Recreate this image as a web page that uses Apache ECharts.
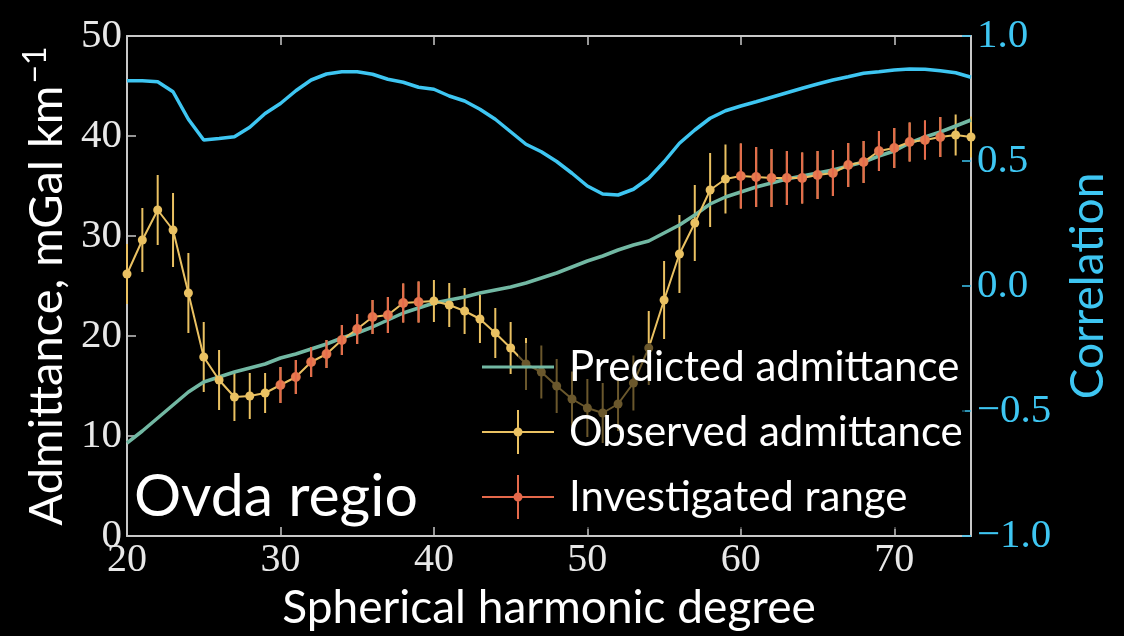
<!DOCTYPE html>
<html><head><meta charset="utf-8">
<script src="https://cdn.jsdelivr.net/npm/echarts@6/dist/echarts.min.js"></script>
<style>html,body{margin:0;padding:0;background:#000;} #c{width:1124px;height:636px;}</style>
</head><body><div id="c"></div>
<script>
const degrees = [20,21,22,23,24,25,26,27,28,29,30,31,32,33,34,35,36,37,38,39,40,41,42,43,44,45,46,47,
  48,49,50,51,52,53,54,55,56,57,58,59,60,61,62,63,64,65,66,67,68,69,70,71,72,73,74,75];
const observed = [26.2,29.6,32.6,30.6,24.3,17.9,15.6,13.9,14.0,14.3,15.1,15.9,17.4,18.2,19.6,20.7,21.9,22.1,
  23.3,23.4,23.5,23.1,22.5,21.7,20.3,18.8,17.2,16.4,15.0,13.7,12.8,12.3,13.2,15.3,18.8,23.6,28.2,31.3,34.6,
  35.7,36.0,35.9,35.8,35.8,35.8,36.1,36.3,37.1,37.4,38.5,38.8,39.4,39.6,39.9,40.1,39.9];
const obsError = [3.0,3.2,3.5,3.7,4.0,3.5,3.0,2.4,2.3,2.0,1.8,1.7,1.5,1.4,1.5,1.5,1.7,1.8,1.95,2.05,2.1,2.2,
  2.3,2.4,2.5,2.6,2.6,2.65,2.7,2.75,2.9,3.0,2.7,2.75,3.7,3.9,3.9,3.8,3.7,3.45,3.25,3.0,2.9,2.7,2.55,2.4,2.3,
  2.2,2.1,2.0,2.0,1.95,1.95,2.0,2.05,2.05];
const predicted = [9.3,10.5,11.8,13.1,14.4,15.4,15.9,16.4,16.8,17.2,17.8,18.2,18.7,19.2,19.8,20.3,20.9,21.6,
  22.3,22.8,23.3,23.6,23.9,24.3,24.6,24.9,25.3,25.8,26.3,26.9,27.5,28.0,28.6,29.1,29.5,30.3,31.1,32.1,33.2,
  33.9,34.4,34.9,35.3,35.7,36.0,36.3,36.6,37.0,37.4,38.0,38.5,39.3,39.9,40.4,41.0,41.6];
const correlation = [0.821,0.821,0.817,0.777,0.667,0.584,0.590,0.597,0.635,0.690,0.730,0.781,0.824,0.848,
  0.857,0.857,0.847,0.827,0.815,0.795,0.787,0.760,0.740,0.707,0.667,0.617,0.567,0.537,0.498,0.451,0.400,
  0.368,0.364,0.387,0.431,0.497,0.571,0.624,0.671,0.701,0.720,0.737,0.755,0.773,0.791,0.808,0.824,0.837,
  0.851,0.857,0.864,0.868,0.867,0.861,0.853,0.835];
const investigatedDegrees = [30,31,32,33,34,35,36,37,38,39,60,61,62,63,64,65,66,67,68,69,70,71,72,73];

const YELLOW = '#eac162', RED = '#e5694b', GREEN = '#72b8a3', BLUE = '#3ec6f2', FRAME = '#c8c8c8';

const obsPoints = degrees.map((d, i) => [d, observed[i]]);
const obsBars = degrees.map((d, i) => [d, observed[i] - obsError[i], observed[i] + obsError[i]]);
const invIdx = degrees.map((d, i) => i).filter(i => investigatedDegrees.indexOf(degrees[i]) >= 0);
const invPoints = invIdx.map(i => [degrees[i], observed[i]]);
const invBars = invIdx.map(i => [degrees[i], observed[i] - obsError[i], observed[i] + obsError[i]]);
const predPoints = degrees.map((d, i) => [d, predicted[i]]);
const corrPoints = degrees.map((d, i) => [d, correlation[i]]);

function errRender(color) {
  return function (params, api) {
    const x = api.value(0), lo = api.value(1), hi = api.value(2);
    const p1 = api.coord([x, lo]), p2 = api.coord([x, hi]);
    return { type: 'line', shape: { x1: p1[0], y1: p1[1], x2: p2[0], y2: p2[1] },
      style: { stroke: color, lineWidth: 2 } };
  };
}
const crossIcon = 'path://M0,21H72V23H0Z M35,0H37V44H35Z M31.5,22A4.5,4.5 0 1 1 40.5,22A4.5,4.5 0 1 1 31.5,22Z';
const lineIcon = 'path://M0,0H0.05V0.05H0Z M0,20.5H72V23.5H0Z M71.95,43.95H72V44H71.95Z';
const serif = 'Liberation Serif';
const sans = 'Lato';

const chart = echarts.init(document.getElementById('c'), null, { renderer: 'canvas' });
chart.setOption({
  backgroundColor: '#000',
  animation: false,
  grid: { left: 127, right: 153, top: 36, bottom: 100 },
  xAxis: [{
    type: 'value', min: 20, max: 75, interval: 10, position: 'bottom',
    axisLine: { show: true, onZero: false, lineStyle: { color: FRAME, width: 2 } },
    axisTick: { show: true, inside: true, length: 9, lineStyle: { color: FRAME, width: 1.5 } },
    axisLabel: { color: '#e8e8e8', fontFamily: serif, fontSize: 40, margin: 4, showMaxLabel: false },
    splitLine: { show: false },
    name: 'Spherical harmonic degree', nameLocation: 'middle', nameGap: 48,
    nameTextStyle: { color: '#fff', fontFamily: sans, fontSize: 46 }
  }, {
    type: 'value', min: 20, max: 75, interval: 10, position: 'top',
    axisLine: { show: true, onZero: false, lineStyle: { color: FRAME, width: 2 } },
    axisTick: { show: true, inside: true, length: 9, lineStyle: { color: FRAME, width: 1.5 } },
    axisLabel: { show: false }, splitLine: { show: false }
  }],
  yAxis: [{
    type: 'value', min: 0, max: 50, interval: 10, position: 'left',
    axisLine: { show: true, onZero: false, lineStyle: { color: FRAME, width: 2 } },
    axisTick: { show: true, inside: true, length: 9, lineStyle: { color: FRAME, width: 1.5 } },
    axisLabel: { color: '#e8e8e8', fontFamily: serif, fontSize: 41, margin: 5 },
    splitLine: { show: false },
    name: '{m|Admittance, mGal km}{s|−1}', nameLocation: 'middle', nameRotate: 90, nameGap: 48,
    nameTextStyle: { rich: {
      m: { color: '#fff', fontFamily: sans, fontSize: 47, lineHeight: 54 },
      s: { color: '#fff', fontFamily: sans, fontSize: 32, padding: [0, 0, 22, 2] }
    } }
  }, {
    type: 'value', min: -1, max: 1, interval: 0.5, position: 'right',
    axisLine: { show: true, onZero: false, lineStyle: { color: FRAME, width: 2 } },
    axisTick: { show: true, inside: true, length: 9, lineStyle: { color: BLUE, width: 1.5 } },
    axisLabel: { color: BLUE, fontFamily: serif, fontSize: 41, margin: 6,
      formatter: v => v.toFixed(1).replace('-', '−') },
    splitLine: { show: false },
    name: 'Correlation', nameLocation: 'middle', nameRotate: 90, nameGap: 94,
    nameTextStyle: { color: BLUE, fontFamily: sans, fontSize: 46 }
  }],
  legend: {
    orient: 'vertical', left: 477, top: 340, itemWidth: 72, itemHeight: 44, itemGap: 21,
    selectedMode: false, z: 200,
    textStyle: { color: '#fff', fontFamily: sans, fontSize: 42, padding: [0, 0, 0, 10] },
    data: [
      { name: 'Predicted admittance', icon: lineIcon, itemStyle: { color: GREEN } },
      { name: 'Observed admittance', icon: crossIcon, itemStyle: { color: YELLOW } },
      { name: 'Investigated range', icon: crossIcon, itemStyle: { color: RED } }
    ]
  },
  graphic: [
    { type: 'rect', z: 100, silent: true, shape: { x: 518, y: 343, width: 447, height: 186 },
      style: { fill: 'rgba(0,0,0,0.55)' } },
    { type: 'text', z: 100, silent: true,
      style: { text: 'Ovda regio', x: 134, y: 497, fill: '#fff', fontFamily: sans, fontSize: 59,
        verticalAlign: 'middle' } }
  ],
  series: [
    { name: 'Observed admittance', type: 'line', data: obsPoints, z: 4,
      symbol: 'circle', symbolSize: 9, lineStyle: { color: YELLOW, width: 2 },
      itemStyle: { color: YELLOW }, clip: false },
    { name: 'Observed admittance', type: 'custom', data: obsBars, z: 2,
      encode: { x: 0, y: [1, 2] }, renderItem: errRender(YELLOW), itemStyle: { color: YELLOW } },
    { name: 'Predicted admittance', type: 'line', data: predPoints, z: 3, symbol: 'none',
      lineStyle: { color: GREEN, width: 3.5 }, itemStyle: { color: GREEN } },
    { name: 'Investigated range', type: 'custom', data: invBars, z: 5,
      encode: { x: 0, y: [1, 2] }, renderItem: errRender(RED), itemStyle: { color: RED } },
    { name: 'Investigated range', type: 'scatter', data: invPoints, z: 6,
      symbol: 'circle', symbolSize: 10, itemStyle: { color: RED } },
    { name: 'Correlation', type: 'line', yAxisIndex: 1, data: corrPoints, z: 3, symbol: 'none',
      lineStyle: { color: BLUE, width: 3.5 }, itemStyle: { color: BLUE } }
  ]
});
</script></body></html>
